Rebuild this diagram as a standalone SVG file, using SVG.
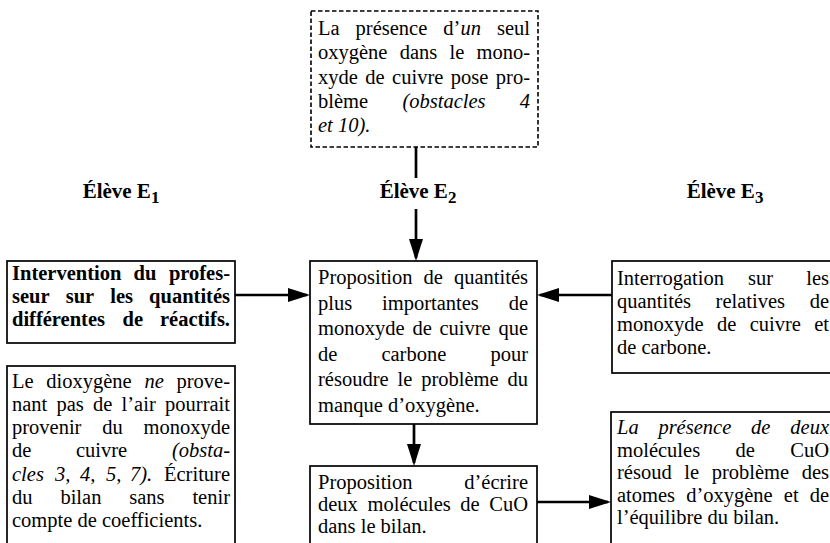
<svg xmlns="http://www.w3.org/2000/svg" width="830" height="543" viewBox="0 0 830 543">
<defs>
<style>
text{font-family:"Liberation Serif","Times New Roman",serif;font-size:20.5px;fill:#000}
.i{font-style:italic}
.b{font-weight:bold;font-size:20.5px}
.h{font-weight:bold;font-size:21px}
.sub{font-size:17px}
.e{text-anchor:end}
.box{fill:#fff;stroke:#000;stroke-width:1.7}
.dash{fill:#fff;stroke:#000;stroke-width:1.6;stroke-dasharray:4.5 2.5}
.con{stroke:#000;stroke-width:2.7;fill:none}
</style>
<marker id="ah" markerUnits="userSpaceOnUse" markerWidth="22" markerHeight="14" refX="19" refY="7" orient="auto">
<path d="M0,0 L22,7 L0,14 Z" fill="#000"/>
</marker>
</defs>
<rect width="830" height="543" fill="#fff"/>

<g id="connectors">
<line class="con" x1="416" y1="147" x2="416" y2="178"/>
<line class="con" x1="416" y1="209" x2="416" y2="258" marker-end="url(#ah)"/>
<line class="con" x1="235" y1="295" x2="307" y2="295" marker-end="url(#ah)"/>
<line class="con" x1="612" y1="295" x2="540" y2="295" marker-end="url(#ah)"/>
<line class="con" x1="414" y1="424" x2="414" y2="463" marker-end="url(#ah)"/>
<line class="con" x1="537" y1="502" x2="608" y2="502" marker-end="url(#ah)"/>
</g>

<g id="node-obstacle">
<rect class="dash" x="311" y="11" width="227" height="136"/>
<text y="34.5"><tspan x="318">La</tspan><tspan x="355.6">présence</tspan><tspan x="443.3">d’</tspan><tspan class="i">un</tspan><tspan x="530" class="e">seul</tspan></text>
<text y="59"><tspan x="318">oxygène</tspan><tspan x="399.7">dans</tspan><tspan x="449.5">le</tspan><tspan x="530" class="e">mono-</tspan></text>
<text y="83.5"><tspan x="318">xyde</tspan><tspan x="365.3">de</tspan><tspan x="392.1">cuivre</tspan><tspan x="450.8">pose</tspan><tspan x="530" class="e">pro-</tspan></text>
<text y="108"><tspan x="318">blème</tspan><tspan x="402.4" class="i">(obstacles</tspan><tspan x="530" class="i e">4</tspan></text>
<text y="132" x="318" class="i">et 10).</text>
</g>

<g id="label-e1"><text class="h" x="121" y="198" text-anchor="middle">Élève E<tspan class="sub" dy="5">1</tspan></text></g>
<g id="label-e2"><text class="h" x="418" y="198" text-anchor="middle">Élève E<tspan class="sub" dy="5">2</tspan></text></g>
<g id="label-e3"><text class="h" x="725" y="198" text-anchor="middle">Élève E<tspan class="sub" dy="5">3</tspan></text></g>

<g id="node-intervention">
<rect class="box" x="7" y="261" width="228" height="82"/>
<text class="b" y="279.5"><tspan x="12">Intervention</tspan><tspan x="133.5">du</tspan><tspan x="230" class="e">profes-</tspan></text>
<text class="b" y="302.5"><tspan x="12">seur</tspan><tspan x="65.7">sur</tspan><tspan x="110.3">les</tspan><tspan x="230" class="e">quantités</tspan></text>
<text class="b" y="325.5"><tspan x="12">différentes</tspan><tspan x="122.5">de</tspan><tspan x="230" class="e">réactifs.</tspan></text>
</g>

<g id="node-dioxygene">
<rect class="box" x="7" y="366" width="228" height="200"/>
<text y="388"><tspan x="12">Le</tspan><tspan x="46.3">dioxygène</tspan><tspan x="144.4" class="i">ne</tspan><tspan x="230" class="e">prove-</tspan></text>
<text y="411"><tspan x="12">nant</tspan><tspan x="56.5">pas</tspan><tspan x="93">de</tspan><tspan x="121.6">l’air</tspan><tspan x="230" class="e">pourrait</tspan></text>
<text y="434"><tspan x="12">provenir</tspan><tspan x="102.2">du</tspan><tspan x="230" class="e">monoxyde</tspan></text>
<text y="457"><tspan x="12">de</tspan><tspan x="76">cuivre</tspan><tspan x="230" class="i e">(obsta-</tspan></text>
<text y="480.5"><tspan x="12" class="i">cles</tspan><tspan x="55" class="i">3,</tspan><tspan x="80" class="i">4,</tspan><tspan x="106" class="i">5,</tspan><tspan x="130" class="i">7).</tspan><tspan x="230" class="e">Écriture</tspan></text>
<text y="503.5"><tspan x="12">du</tspan><tspan x="60.4">bilan</tspan><tspan x="129.3">sans</tspan><tspan x="230" class="e">tenir</tspan></text>
<text y="526.5" x="12">compte de coefficients.</text>
</g>

<g id="node-proposition-quantites">
<rect class="box" x="310" y="261" width="227" height="163"/>
<text y="284"><tspan x="318">Proposition</tspan><tspan x="423.6">de</tspan><tspan x="528" class="e">quantités</tspan></text>
<text y="309.5"><tspan x="318">plus</tspan><tspan x="382">importantes</tspan><tspan x="528" class="e">de</tspan></text>
<text y="335"><tspan x="318">monoxyde</tspan><tspan x="412.4">de</tspan><tspan x="439.5">cuivre</tspan><tspan x="528" class="e">que</tspan></text>
<text y="360.5"><tspan x="318">de</tspan><tspan x="381.4">carbone</tspan><tspan x="528" class="e">pour</tspan></text>
<text y="386"><tspan x="318">résoudre</tspan><tspan x="397.5">le</tspan><tspan x="421.2">problème</tspan><tspan x="528" class="e">du</tspan></text>
<text y="411.5" x="318">manque d’oxygène.</text>
</g>

<g id="node-proposition-ecrire">
<rect class="box" x="310" y="466" width="227" height="100"/>
<text y="489"><tspan x="318">Proposition</tspan><tspan x="528" class="e">d’écrire</tspan></text>
<text y="511"><tspan x="318">deux</tspan><tspan x="367.6">molécules</tspan><tspan x="460.3">de</tspan><tspan x="528" class="e">CuO</tspan></text>
<text y="533" x="318">dans le bilan.</text>
</g>

<g id="node-interrogation">
<rect class="box" x="612" y="261" width="230" height="112"/>
<text y="285"><tspan x="617">Interrogation</tspan><tspan x="748">sur</tspan><tspan x="829" class="e">les</tspan></text>
<text y="308"><tspan x="617">quantités</tspan><tspan x="715.6">relatives</tspan><tspan x="829" class="e">de</tspan></text>
<text y="331"><tspan x="617">monoxyde</tspan><tspan x="717">de</tspan><tspan x="749.7">cuivre</tspan><tspan x="829" class="e">et</tspan></text>
<text y="354" x="617">de carbone.</text>
</g>

<g id="node-presence">
<rect class="box" x="611" y="412" width="230" height="150"/>
<text y="434" class="i"><tspan x="617">La</tspan><tspan x="658.4">présence</tspan><tspan x="751.1">de</tspan><tspan x="829" class="e">deux</tspan></text>
<text y="456.5"><tspan x="617">molécules</tspan><tspan x="735.5">de</tspan><tspan x="829" class="e">CuO</tspan></text>
<text y="479"><tspan x="617">résoud</tspan><tspan x="684.3">le</tspan><tspan x="711.7">problème</tspan><tspan x="829" class="e">des</tspan></text>
<text y="501.5"><tspan x="617">atomes</tspan><tspan x="686.2">d’oxygène</tspan><tspan x="783.8">et</tspan><tspan x="829" class="e">de</tspan></text>
<text y="524" x="617">l’équilibre du bilan.</text>
</g>
</svg>
